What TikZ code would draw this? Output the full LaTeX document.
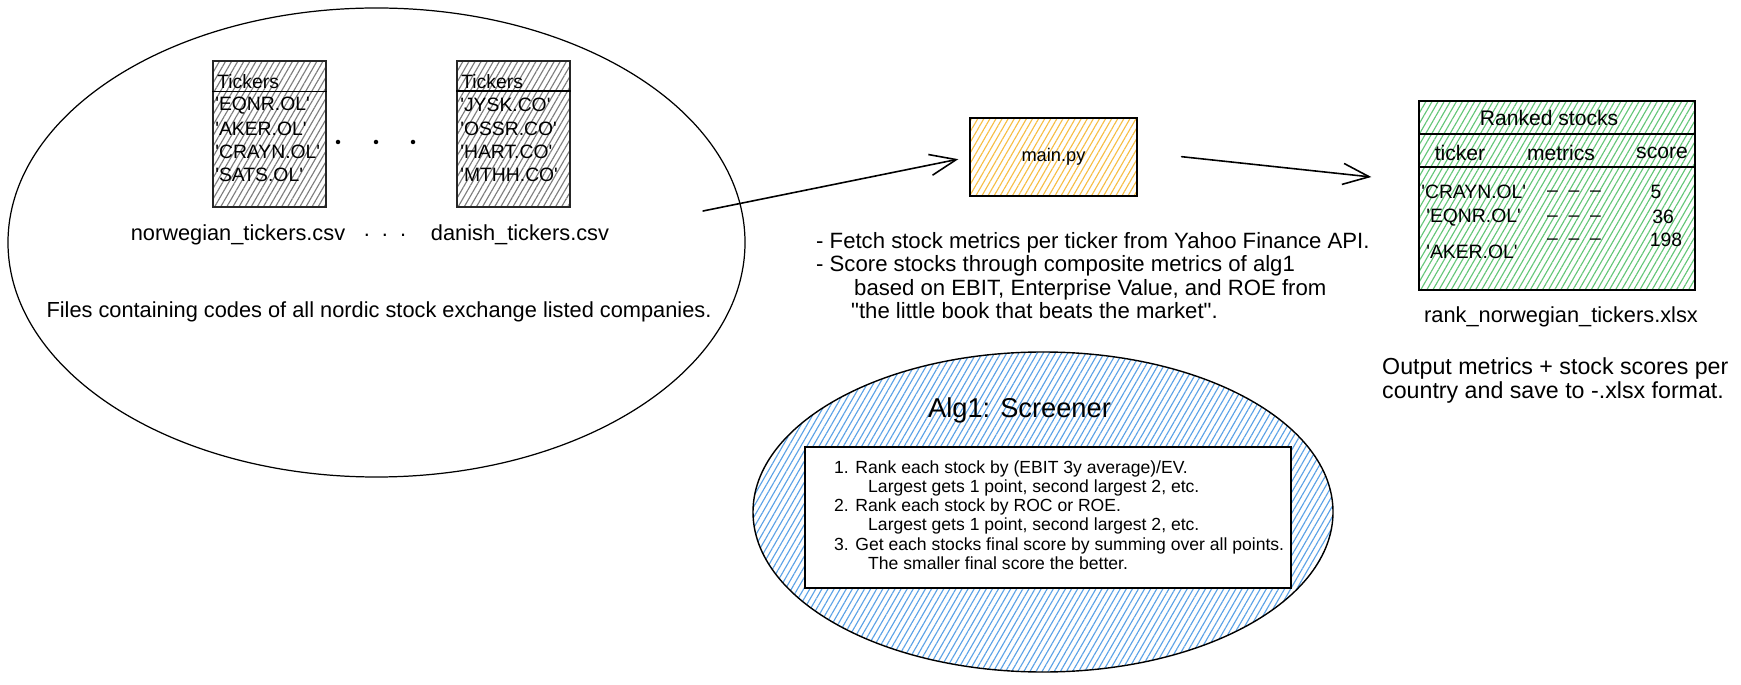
\documentclass[tikz,border=0pt]{standalone}
\usepackage{fontspec}
\setmainfont{Liberation Sans}
\usepackage{tikz}
\usetikzlibrary{shapes.geometric,arrows.meta,patterns.meta}
\definecolor{hachGris}{RGB}{125,125,125}
\definecolor{hachJaune}{RGB}{246,190,70}
\definecolor{hachVert}{RGB}{100,198,120}
\definecolor{hachBleu}{RGB}{92,162,230}
\newcommand{\tq}{\textquotesingle}

\begin{document}
\begin{tikzpicture}[font=\fontsize{12.4}{14}\selectfont,
  fleche/.style={-{Straight Barb[length=15pt,width=12pt]}, line width=0.9pt, line cap=round},
  hachure/.style={pattern={Lines[angle=60,distance=3pt,line width=0.65pt]}, pattern color=#1},
  tableau/.style={draw=black!85, line width=1.1pt, hachure=hachGris,
                  minimum width=2.26cm, minimum height=2.92cm, inner sep=0pt},
  cellule/.style={anchor=west, inner sep=0pt, font=\fontsize{11}{13}\selectfont}]

\useasboundingbox (0,0) rectangle (34.82,13.68);

% les fichiers csv
\node[draw, ellipse, line width=0.7pt, minimum width=14.74cm, minimum height=9.38cm, inner sep=0pt] (files) at (7.53,8.83) {};

\node[tableau] (nortab) at (5.39,11.00) {};
\draw[line width=1pt] ([yshift=-0.62cm]nortab.north west) -- ([yshift=-0.62cm]nortab.north east);
\node[cellule] (norhead) at (4.34,12.04) {Tickers};
\foreach \tk [count=\i] in {EQNR.OL,AKER.OL,CRAYN.OL,SATS.OL}
  \node[cellule] (nor\i) at (4.30,12.04-0.465*\i) {\tq\tk\tq};

\node[tableau] (dantab) at (10.27,11.00) {};
\draw[line width=1pt] ([yshift=-0.62cm]dantab.north west) -- ([yshift=-0.62cm]dantab.north east);
\node[cellule] (danhead) at (9.22,12.04) {Tickers};
\foreach \tk [count=\i] in {JYSK.CO,OSSR.CO,HART.CO,MTHH.CO}
  \node[cellule] (dan\i) at (9.20,12.04-0.465*\i) {\tq\tk\tq};

\foreach \x [count=\i] in {6.76,7.52,8.26}
  \node[circle, fill, inner sep=0pt, minimum size=0.09cm] (dot\i) at (\x,10.84) {};

\node (norlbl) at (4.76,8.98) {norwegian\_tickers.csv};
\node (midlbl) at (7.70,8.98) {.\ \ .\ \ .};
\node (danlbl) at (10.40,8.98) {danish\_tickers.csv};
\node (fileslbl) at (7.58,7.44) {Files containing codes of all nordic stock exchange listed companies.};

% le script
\node[draw, line width=1pt, hachure=hachJaune, minimum width=3.34cm, minimum height=1.56cm,
      font=\fontsize{10.4}{12}\selectfont] (main) at (21.07,10.54) {main.py};
\coordinate (filesout) at (14.06,9.46);
\draw[fleche, shorten >=0.22cm] (filesout) -- (main.west);

\node[anchor=west, align=left, font=\fontsize{12.6}{13.4}\selectfont] (steps) at (16.20,8.17)
  {- Fetch stock metrics per ticker from Yahoo Finance API.\\
   - Score stocks through composite metrics of alg1\\
   \hspace*{0.76cm}based on EBIT, Enterprise Value, and ROE from\\
   \hspace*{0.7cm}\textquotedbl the little book that beats the market\textquotedbl.};

% le classement
\node[draw, line width=1.1pt, hachure=hachVert, minimum width=5.52cm, minimum height=3.78cm, inner sep=0pt] (rank) at (31.14,9.77) {};
\draw[line width=1pt] ([yshift=-0.68cm]rank.north west) -- ([yshift=-0.68cm]rank.north east);
\draw[line width=1pt] ([yshift=-1.34cm]rank.north west) -- ([yshift=-1.34cm]rank.north east);
\node[font=\fontsize{12}{14}\selectfont] (ranktitle) at (30.98,11.32) {Ranked stocks};
\node[font=\fontsize{12}{14}\selectfont] (colticker) at (29.20,10.62) {ticker};
\node[font=\fontsize{12}{14}\selectfont] (colmetrics) at (31.22,10.62) {metrics};
\node[font=\fontsize{12}{14}\selectfont] (colscore) at (33.24,10.62) {score};
\node[cellule] (row1) at (28.42,9.84) {\tq CRAYN.OL\tq};
\node[cellule] (row2) at (28.52,9.32) {\tq EQNR.OL\tq};
\node[cellule] (row3) at (28.52,8.64) {\tq AKER.OL\tq};
\foreach \y [count=\i] in {9.80,9.30,8.84}
  \node[font=\fontsize{11}{13}\selectfont] (dash\i) at (31.48,\y) {--\ \ --\ \ --};
\node[font=\fontsize{11}{13}\selectfont] (score1) at (33.12,9.84) {5};
\node[font=\fontsize{11}{13}\selectfont] (score2) at (33.26,9.34) {36};
\node[font=\fontsize{11}{13}\selectfont] (score3) at (33.32,8.88) {198};
\draw[fleche, shorten <=0.88cm, shorten >=0.94cm] ([yshift=0.1cm]main.east) -- ([yshift=0.27cm]rank.west);

\node (ranklbl) at (31.22,7.34) {rank\_norwegian\_tickers.xlsx};
\node[anchor=west, align=left, font=\fontsize{13.2}{14.2}\selectfont] (outtxt) at (27.52,6.07)
  {Output metrics + stock scores per\\country and save to -.xlsx format.};

% l'algorithme
\node[draw, ellipse, line width=0.8pt, hachure=hachBleu, minimum width=11.6cm, minimum height=6.4cm, inner sep=0pt] (alg) at (20.86,3.44) {};
\node[font=\fontsize{15.5}{18}\selectfont] (algtitle) at (20.39,5.48) {Alg1: Screener};
\node[draw, fill=white, line width=0.8pt, minimum width=9.72cm, minimum height=2.82cm, inner sep=0pt] (algbox) at (20.96,3.33) {};
\node[anchor=west, align=left, font=\fontsize{10}{10.9}\selectfont] (algtxt) at (16.56,3.38)
  {1. Rank each stock by (EBIT 3y average)/EV.\\
   \hspace*{0.68cm}Largest gets 1 point, second largest 2, etc.\\
   2. Rank each stock by ROC or ROE.\\
   \hspace*{0.68cm}Largest gets 1 point, second largest 2, etc.\\
   3. Get each stocks final score by summing over all points.\\
   \hspace*{0.68cm}The smaller final score the better.};

\end{tikzpicture}
\end{document}
